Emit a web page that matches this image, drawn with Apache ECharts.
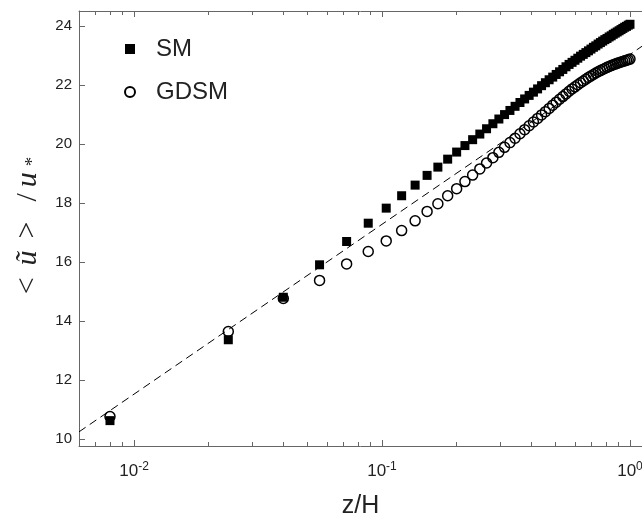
<!DOCTYPE html>
<html>
<head>
<meta charset="UTF-8">
<title>SM vs GDSM</title>
<script src="https://cdn.jsdelivr.net/npm/echarts@6/dist/echarts.min.js"></script>
<style>
  html, body { margin: 0; padding: 0; background: #fff; }
  #chart { width: 642px; height: 518px; }
</style>
</head>
<body>
<div id="chart"></div>
<script>
// z/H of the grid points
var zH = [0.008, 0.024, 0.040, 0.056, 0.072, 0.088, 0.104, 0.120, 0.136, 0.152,
  0.168, 0.184, 0.200, 0.216, 0.232, 0.248, 0.264, 0.280, 0.296, 0.312,
  0.328, 0.344, 0.360, 0.376, 0.392, 0.408, 0.424, 0.440, 0.456, 0.472,
  0.488, 0.504, 0.520, 0.536, 0.552, 0.568, 0.584, 0.600, 0.616, 0.632,
  0.648, 0.664, 0.680, 0.696, 0.712, 0.728, 0.744, 0.760, 0.776, 0.792,
  0.808, 0.824, 0.840, 0.856, 0.872, 0.888, 0.904, 0.920, 0.936, 0.952,
  0.968, 0.984, 1.000];

var smU = [10.62, 13.36, 14.80, 15.90, 16.69, 17.31, 17.82, 18.24, 18.60, 18.93,
  19.21, 19.48, 19.72, 19.94, 20.14, 20.33, 20.51, 20.68, 20.84, 20.99,
  21.13, 21.27, 21.40, 21.52, 21.64, 21.75, 21.86, 21.97, 22.07, 22.17,
  22.26, 22.35, 22.44, 22.52, 22.61, 22.69, 22.76, 22.83, 22.90, 22.97,
  23.03, 23.09, 23.15, 23.21, 23.27, 23.32, 23.38, 23.43, 23.48, 23.53,
  23.57, 23.62, 23.66, 23.71, 23.75, 23.79, 23.83, 23.87, 23.91, 23.95,
  23.98, 24.02, 24.05];

var gdsmU = [10.76, 13.64, 14.76, 15.37, 15.93, 16.35, 16.71, 17.06, 17.39, 17.71,
  17.97, 18.24, 18.48, 18.72, 18.94, 19.15, 19.35, 19.53, 19.71, 19.88,
  20.04, 20.19, 20.34, 20.48, 20.61, 20.74, 20.86, 20.98, 21.09, 21.20,
  21.31, 21.41, 21.51, 21.60, 21.69, 21.78, 21.86, 21.93, 22.00, 22.07,
  22.13, 22.19, 22.25, 22.30, 22.35, 22.40, 22.44, 22.48, 22.52, 22.55,
  22.59, 22.62, 22.65, 22.68, 22.70, 22.73, 22.75, 22.77, 22.79, 22.81,
  22.83, 22.85, 22.87];

// log law reference line (dashed), end points
var logLawZ = [0.006, 1.12];
var logLawU = [10.24, 23.31];

// axis ranges and ticks
var xMin = 0.006, xMax = 1.118;
var yMin = 9.76, yMax = 24.5;
var yTicks = [10, 12, 14, 16, 18, 20, 22, 24];
var xDecades = [0.01, 0.1, 1];
var xMinor = [0.006, 0.007, 0.008, 0.009,
  0.02, 0.03, 0.04, 0.05, 0.06, 0.07, 0.08, 0.09,
  0.2, 0.3, 0.4, 0.5, 0.6, 0.7, 0.8, 0.9];

var lg = function (v) { return Math.log10(v); };
var pairs = function (xs, ys) {
  return xs.map(function (x, i) { return [lg(x), ys[i]]; });
};

var axisGray = '#666';
var txt = '#222';
var font = 'Liberation Sans';

function xAxisDef(pos, vals, len, showLine) {
  return {
    type: 'value', position: pos, min: lg(xMin), max: lg(xMax),
    splitLine: { show: false },
    axisLine: { show: showLine, onZero: false, lineStyle: { color: axisGray, width: 1 } },
    axisTick: { show: true, inside: true, length: len, customValues: vals.map(lg),
      lineStyle: { color: axisGray, width: 1 } },
    axisLabel: { show: false }
  };
}

var bottomMajor = xAxisDef('bottom', xDecades, 6, true);
bottomMajor.axisLabel = {
  show: true, margin: 15, customValues: xDecades.map(lg),
  formatter: function (v) { return '{b|10}{s|' + Math.round(v) + '}'; },
  rich: {
    b: { fontSize: 17, fontFamily: font, color: txt, lineHeight: 20 },
    s: { fontSize: 12, fontFamily: font, color: txt, lineHeight: 12, verticalAlign: 'top' }
  }
};
bottomMajor.name = 'z/H';
bottomMajor.nameLocation = 'middle';
bottomMajor.nameGap = 48;
bottomMajor.nameTextStyle = { fontSize: 25, fontFamily: font, color: txt };

var chart = echarts.init(document.getElementById('chart'), null, { renderer: 'canvas' });
chart.setOption({
  animation: false,
  backgroundColor: '#fff',
  grid: { left: 79, top: 11, right: 0, bottom: 72, containLabel: false, outerBoundsMode: 'none' },
  legend: {
    orient: 'vertical', left: 119, top: 32, itemGap: 19,
    itemWidth: 10, itemHeight: 10,
    data: ['SM', 'GDSM'],
    formatter: function (n) { return '{t|' + n + '}'; },
    textStyle: {
      rich: { t: { fontSize: 24, fontFamily: font, color: txt, lineHeight: 28, padding: [0, 0, 0, 16] } }
    }
  },
  xAxis: [
    bottomMajor,
    xAxisDef('bottom', xMinor, 4, false),
    xAxisDef('top', xDecades, 6, true),
    xAxisDef('top', xMinor, 4, false)
  ],
  yAxis: [{
    type: 'value', min: yMin, max: yMax,
    splitLine: { show: false },
    axisLine: { show: true, onZero: false, lineStyle: { color: axisGray, width: 1 } },
    axisTick: { show: true, inside: true, length: 6, customValues: yTicks,
      lineStyle: { color: axisGray, width: 1 } },
    axisLabel: { customValues: yTicks, margin: 7, fontSize: 15, fontFamily: font, color: txt },
    name: '{r|<}{i|ũ}{r|>}{s|/}{i|u}{sub|*}',
    nameLocation: 'middle', nameGap: 36,
    nameTextStyle: {
      rich: {
        r: { fontSize: 30, fontFamily: 'Liberation Serif', color: txt, padding: [0, 6] },
        i: { fontSize: 30, fontFamily: 'Liberation Serif', fontStyle: 'italic', color: txt, padding: [0, 6] },
        s: { fontSize: 30, fontFamily: 'Liberation Serif', color: txt, padding: [0, 0, 0, 14] },
        sub: { fontSize: 19, fontFamily: 'Liberation Serif', color: txt, verticalAlign: 'bottom' }
      }
    }
  }],
  series: [
    {
      name: 'logLaw', type: 'line', xAxisIndex: 0, yAxisIndex: 0,
      data: pairs(logLawZ, logLawU), symbol: 'none', silent: true,
      lineStyle: { color: '#000', width: 1, type: [8, 5] }, z: 1
    },
    {
      name: 'SM', type: 'scatter', xAxisIndex: 0, yAxisIndex: 0,
      data: pairs(zH, smU), symbol: 'rect', symbolSize: 9,
      itemStyle: { color: '#000', opacity: 1 }, z: 2
    },
    {
      name: 'GDSM', type: 'scatter', xAxisIndex: 0, yAxisIndex: 0,
      data: pairs(zH, gdsmU), symbol: 'circle', symbolSize: 10,
      itemStyle: { color: 'rgba(0,0,0,0)', borderColor: '#000', borderWidth: 1.5, opacity: 1 }, z: 3
    }
  ]
});
</script>
</body>
</html>
